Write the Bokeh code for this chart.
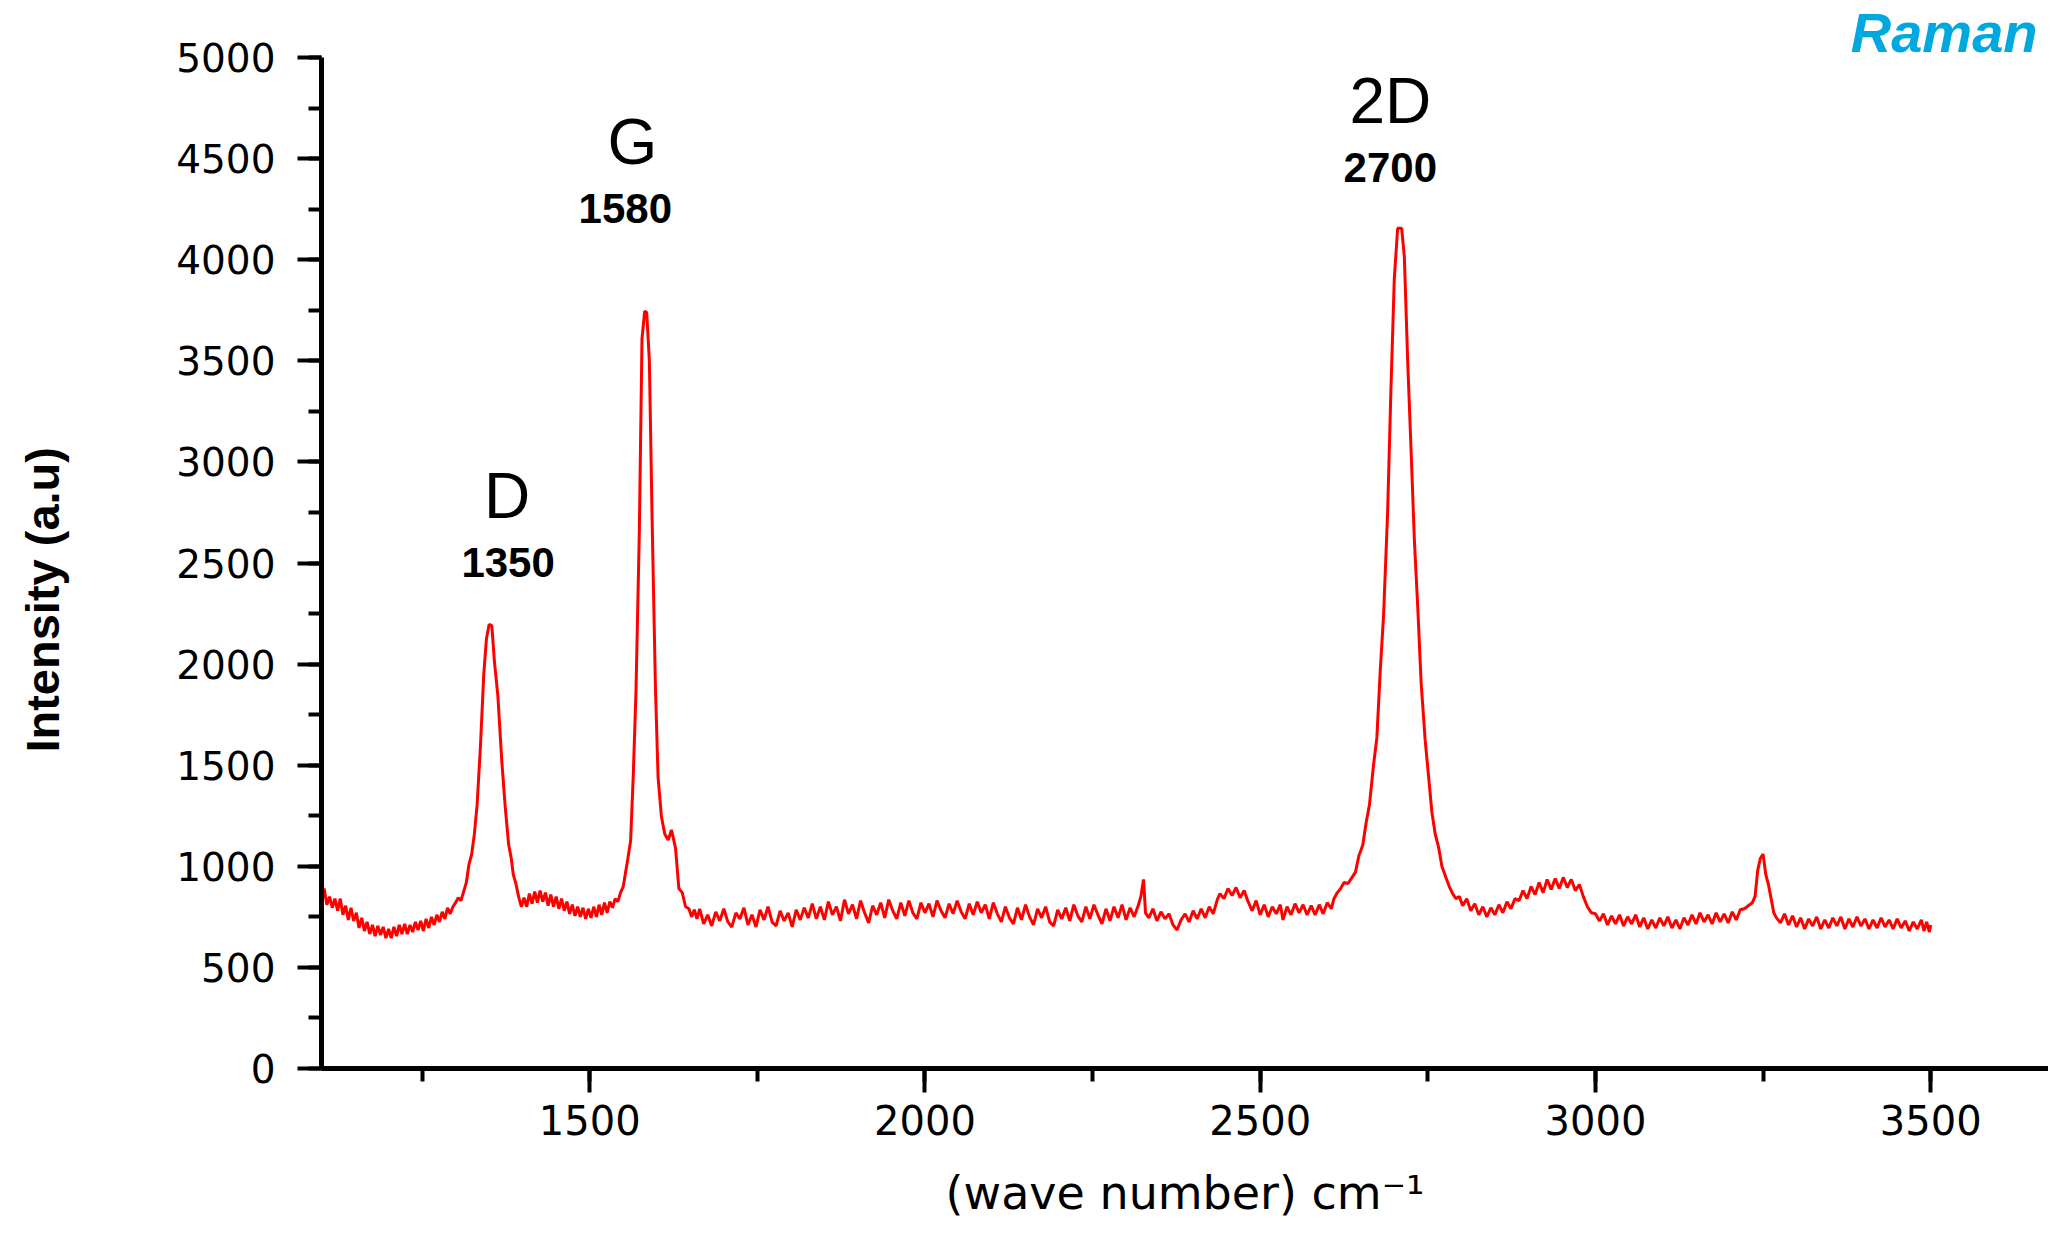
from bokeh.plotting import figure
from bokeh.models import Label, SingleIntervalTicker, Range1d, ColumnDataSource
from bokeh.core.properties import value
from bokeh.embed import file_html
from bokeh.resources import INLINE

# ---------------- data ----------------
# baseline before the D band
low_wn = [1101, 1104, 1108, 1112, 1116, 1120, 1124, 1128, 1132, 1136, 1140, 1144, 1148, 1152,
          1156, 1160, 1164, 1168, 1172, 1176, 1180, 1184, 1188, 1192, 1196, 1200, 1204, 1208,
          1212, 1216, 1220, 1224, 1228, 1232, 1236, 1240, 1244, 1248, 1252, 1256, 1260, 1264,
          1268, 1272, 1276, 1280, 1284, 1288, 1292]
low_int = [860, 890, 810, 850, 795, 840, 780, 840, 760, 805, 735, 795, 730, 770,
           695, 745, 680, 725, 665, 710, 655, 705, 660, 700, 645, 690, 645, 700,
           655, 710, 665, 715, 665, 710, 675, 725, 685, 730, 680, 740, 695, 750,
           710, 760, 725, 775, 740, 795, 765]

# D band (~1350)
d_wn = [1296, 1300, 1304, 1308, 1312, 1316, 1320, 1324, 1328, 1332, 1337, 1342, 1346, 1350,
        1354, 1358, 1363, 1369, 1374, 1379, 1383, 1386, 1390, 1394, 1398]
d_int = [800, 820, 845, 830, 875, 920, 1010, 1060, 1160, 1300, 1590, 1950, 2125, 2196,
         2190, 2010, 1845, 1515, 1295, 1110, 1040, 960, 913, 850, 800]

# between D and G
dg_wn = [1402, 1406, 1410, 1414, 1418, 1422, 1426, 1430, 1434, 1438, 1442, 1446, 1450, 1454,
         1458, 1462, 1466, 1470, 1474, 1478, 1482, 1486, 1490, 1494, 1498, 1502, 1506, 1510,
         1514, 1518, 1522, 1526, 1530, 1534, 1538, 1542]
dg_int = [845, 800, 865, 815, 875, 820, 880, 825, 870, 805, 860, 800, 850, 790,
          840, 780, 825, 765, 810, 755, 800, 750, 795, 740, 790, 745, 800, 750,
          810, 760, 820, 770, 825, 795, 840, 825]

# G band (~1580)
g_wn = [1546, 1550, 1553, 1557, 1561, 1565, 1569, 1574, 1578, 1582, 1585, 1589, 1593, 1598,
        1602, 1607, 1612, 1617, 1622, 1628, 1633, 1638, 1643, 1648, 1652, 1656, 1660]
g_int = [870, 900, 960, 1040, 1125, 1450, 1860, 2650, 3610, 3745, 3740, 3500, 2730, 1890,
         1440, 1245, 1160, 1130, 1180, 1090, 890, 870, 800, 790, 750, 785, 740]

# flat region 1664 - 2318
mid_wn = [1664, 1670, 1676, 1682, 1688, 1694, 1700, 1706, 1712, 1718, 1724, 1730, 1736, 1742,
          1748, 1754, 1760, 1766, 1772, 1778, 1784, 1790, 1796, 1802, 1808, 1814, 1820, 1826,
          1832, 1838, 1844, 1850, 1856, 1862, 1868, 1874, 1880, 1886, 1892, 1898, 1904, 1910,
          1916, 1922, 1928, 1934, 1940, 1946, 1952, 1958, 1964, 1970, 1976, 1982, 1988, 1994,
          2000, 2006, 2012, 2018, 2024, 2030, 2036, 2042, 2048, 2054, 2060, 2066, 2072, 2078,
          2084, 2090, 2096, 2102, 2108, 2114, 2120, 2126, 2132, 2138, 2144, 2150, 2156, 2162,
          2168, 2174, 2180, 2186, 2192, 2198, 2204, 2210, 2216, 2222, 2228, 2234, 2240, 2246,
          2252, 2258, 2264, 2270, 2276, 2282, 2288, 2294, 2300, 2306, 2312, 2318]
mid_int = [790, 715, 760, 705, 775, 730, 790, 725, 700, 770, 740, 795, 710, 760,
           700, 785, 735, 800, 725, 705, 780, 730, 770, 700, 785, 735, 795, 745,
           815, 740, 800, 735, 825, 760, 800, 730, 835, 765, 810, 740, 830, 770,
           720, 805, 760, 820, 745, 835, 780, 740, 820, 755, 830, 770, 740, 820,
           770, 815, 750, 830, 780, 745, 815, 765, 830, 775, 740, 815, 760, 825,
           770, 810, 740, 820, 765, 725, 800, 745, 715, 795, 735, 810, 750, 710,
           790, 745, 800, 725, 705, 785, 740, 795, 730, 810, 755, 725, 800, 740,
           810, 760, 715, 790, 730, 800, 745, 810, 735, 795, 750, 805]

# 2322 - 2606 (small spike and weak hump ~2450)
hump_wn = [2322, 2326, 2329, 2334, 2340, 2346, 2352, 2358, 2364, 2370, 2376, 2382, 2388, 2394,
           2400, 2406, 2412, 2418, 2424, 2430, 2436, 2440, 2446, 2452, 2458, 2464, 2470, 2476,
           2482, 2488, 2494, 2500, 2506, 2512, 2518, 2524, 2530, 2534, 2540, 2546, 2552, 2558,
           2564, 2570, 2576, 2582, 2588, 2594, 2600, 2606]
hump_int = [850, 935, 770, 745, 790, 730, 775, 740, 765, 710, 685, 735, 765, 725,
            780, 740, 790, 745, 800, 765, 835, 865, 840, 890, 855, 895, 845, 880,
            825, 780, 830, 760, 810, 750, 800, 765, 810, 735, 800, 760, 815, 770,
            810, 760, 805, 760, 810, 765, 820, 790]

# 2D band (~2700)
d2_wn = [2610, 2615, 2620, 2625, 2631, 2636, 2642, 2647, 2653, 2658, 2663, 2669, 2674, 2679,
         2684, 2690, 2695, 2700, 2705, 2711, 2715, 2720, 2725, 2730, 2735, 2740, 2746, 2751,
         2756, 2761, 2766, 2771, 2777, 2782, 2787, 2792, 2797]
d2_int = [840, 870, 890, 920, 915, 940, 970, 1050, 1105, 1215, 1305, 1500, 1635, 1965,
          2240, 2745, 3360, 3905, 4155, 4155, 4015, 3495, 3060, 2610, 2280, 1910, 1625, 1450,
          1270, 1160, 1095, 1000, 945, 900, 865, 840, 850]

# 2802 - 3500 (hump ~2940, small peak ~3250)
high_wn = [2802, 2808, 2814, 2820, 2826, 2832, 2838, 2844, 2850, 2856, 2862, 2868, 2874, 2880,
           2886, 2892, 2898, 2904, 2910, 2916, 2922, 2928, 2934, 2940, 2946, 2952, 2958, 2964,
           2970, 2976, 2982, 2988, 2994, 3000, 3006, 3012, 3018, 3024, 3030, 3036, 3042, 3048,
           3054, 3060, 3066, 3072, 3078, 3084, 3090, 3096, 3102, 3108, 3114, 3120, 3126, 3132,
           3138, 3144, 3150, 3156, 3162, 3168, 3174, 3180, 3186, 3192, 3198, 3204, 3210, 3216,
           3222, 3228, 3234, 3238, 3242, 3246, 3250, 3254, 3258, 3262, 3266, 3270, 3276, 3282,
           3288, 3294, 3300, 3306, 3312, 3318, 3324, 3330, 3336, 3342, 3348, 3354, 3360, 3366,
           3372, 3378, 3384, 3390, 3396, 3402, 3408, 3414, 3420, 3426, 3432, 3438, 3444, 3450,
           3456, 3462, 3468, 3474, 3480, 3486, 3490, 3494, 3498, 3500]
high_int = [805, 840, 780, 815, 760, 800, 750, 795, 760, 810, 770, 825, 790, 840,
            830, 880, 840, 900, 860, 920, 870, 935, 885, 940, 890, 945, 895, 935,
            880, 910, 850, 800, 770, 765, 730, 765, 710, 755, 715, 760, 705, 750,
            715, 760, 700, 745, 690, 735, 695, 745, 705, 750, 695, 735, 690, 745,
            710, 760, 715, 770, 725, 760, 715, 770, 725, 765, 720, 775, 735, 785,
            790, 805, 820, 850, 980, 1040, 1060, 960, 910, 840, 770, 745, 720, 765,
            710, 755, 700, 745, 690, 740, 705, 750, 690, 735, 695, 745, 705, 750,
            690, 740, 700, 750, 705, 740, 690, 735, 695, 745, 700, 735, 690, 740,
            695, 730, 680, 725, 690, 735, 680, 725, 675, 710]

wavenumber = low_wn + d_wn + dg_wn + g_wn + mid_wn + hump_wn + d2_wn + high_wn
intensity = low_int + d_int + dg_int + g_int + mid_int + hump_int + d2_int + high_int

peak_names = ["D", "G", "2D"]
peak_positions = [1350, 1580, 2700]
peak_labels = ["1350", "1580", "2700"]

x_label = "(wave number) cm\u207b\u00b9"
y_label = "Intensity (a.u)"
corner_title = "Raman"

# ---------------- figure ----------------
# frame reaches the top of the canvas; the y axis itself is bounded to 0..5000
p = figure(frame_width=1727, frame_height=1068, output_backend="svg", toolbar_location=None,
           x_range=Range1d(1100, 3675.7), y_range=Range1d(0, 5281.9),
           min_border_left=321, min_border_right=0, min_border_top=0, min_border_bottom=151)
p.outline_line_color = None
p.xgrid.visible = False
p.ygrid.visible = False
p.background_fill_color = "white"
p.border_fill_color = "white"

p.line(wavenumber, intensity, line_color="#ff0000", line_width=3)

for ax in (p.xaxis[0], p.yaxis[0]):
    ax.axis_line_width = 5
    ax.axis_line_color = "black"
    ax.major_tick_line_width = 4
    ax.minor_tick_line_width = 4
    ax.major_tick_out = 24
    ax.major_tick_in = 0
    ax.minor_tick_out = 13
    ax.minor_tick_in = 0
    ax.major_label_text_font = "DejaVu Sans"
    ax.major_label_text_color = "black"
    ax.major_label_text_font_style = "normal"

p.yaxis[0].bounds = (0, 5000)
p.xaxis[0].ticker = SingleIntervalTicker(interval=500, num_minor_ticks=2)
p.yaxis[0].ticker = SingleIntervalTicker(interval=500, num_minor_ticks=2)
p.xaxis[0].major_label_text_font_size = "40px"
p.yaxis[0].major_label_text_font_size = "39px"
p.xaxis[0].major_label_standoff = 12
p.yaxis[0].major_label_standoff = 22

p.xaxis[0].axis_label = x_label
p.xaxis[0].axis_label_text_font = "DejaVu Sans"
p.xaxis[0].axis_label_text_font_size = "46px"
p.xaxis[0].axis_label_text_font_style = "normal"
p.xaxis[0].axis_label_text_color = "black"
p.xaxis[0].axis_label_standoff = 28

# trailing no-break spaces shift the centred (rotated) title down to where the reference has it
p.yaxis[0].axis_label = y_label + "\u00a0" * 10
p.yaxis[0].axis_label_text_font = "Liberation Sans"
p.yaxis[0].axis_label_text_font_size = "47px"
p.yaxis[0].axis_label_text_font_style = "bold"
p.yaxis[0].axis_label_text_color = "black"
p.yaxis[0].axis_label_standoff = 104

p.add_layout(Label(x=1716, y=1036, x_units="screen", y_units="screen", text=corner_title,
                   text_font="Liberation Sans", text_font_size="56px",
                   text_font_style="bold italic", text_align="right",
                   text_baseline="middle", text_color="#00a8e0"))

# peak annotations placed relative to the peak maxima
peak_heights = []
for pos in peak_positions:
    near = [v for w, v in zip(wavenumber, intensity) if abs(w - pos) <= 15]
    peak_heights.append(max(near))

name_dx = [18, -11, -4]
name_dy = [-128, -169, -127]
num_dx = [19, -18, -4]
num_dy = [-62, -103, -61]

names_src = ColumnDataSource(dict(x=peak_positions, y=peak_heights, t=peak_names,
                                  dx=name_dx, dy=name_dy))
nums_src = ColumnDataSource(dict(x=peak_positions, y=peak_heights, t=peak_labels,
                                 dx=num_dx, dy=num_dy))
p.text(x="x", y="y", text="t", x_offset="dx", y_offset="dy", source=names_src,
       text_font=value("Liberation Sans"), text_font_size="64px", text_align="center",
       text_baseline="middle", text_color="black")
p.text(x="x", y="y", text="t", x_offset="dx", y_offset="dy", source=nums_src,
       text_font=value("Liberation Sans"), text_font_size="42px", text_font_style="bold",
       text_align="center", text_baseline="middle", text_color="black")

open("out.html", "w").write(file_html(p, INLINE))
